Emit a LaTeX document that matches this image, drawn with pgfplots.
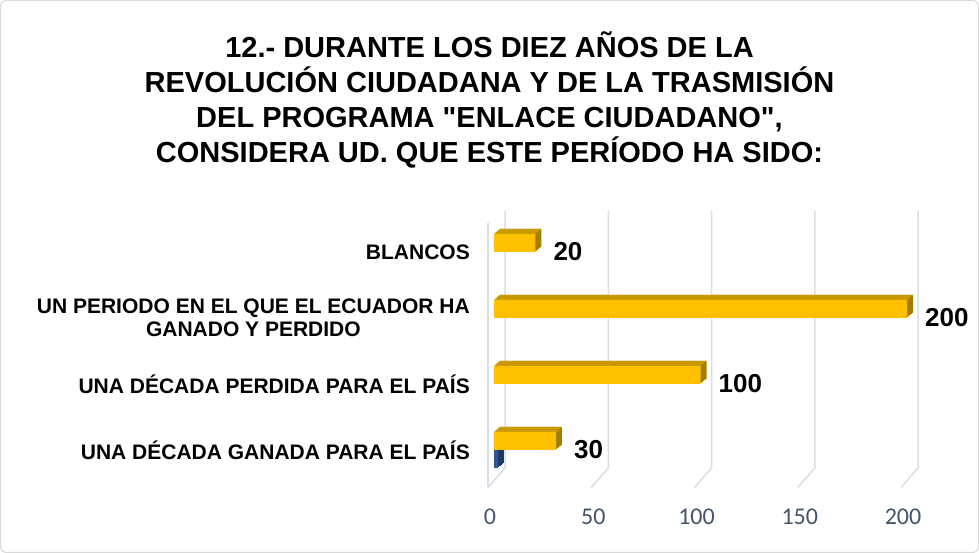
\documentclass[border=0pt]{standalone}
\usepackage{fontspec}
\setmainfont{Liberation Sans}
\newfontfamily\carlito{Carlito}
\usepackage{pgfplots}
\usepackage{pgfplotstable}
\pgfplotsset{compat=1.18}

\definecolor{gold}{HTML}{FFC000}
\definecolor{goldtop}{HTML}{C99A00}
\definecolor{goldside}{HTML}{A37C00}
\definecolor{bluefront}{HTML}{2F5597}
\definecolor{bluetop}{HTML}{4A6FB5}
\definecolor{blueside}{HTML}{1F3864}
\definecolor{gridc}{HTML}{D9DDE6}
\definecolor{tickc}{HTML}{44546A}
\definecolor{framec}{HTML}{D9D9D9}

\newcommand{\comilla}{\XeTeXglyph\XeTeXglyphindex "quotedbl"\relax}

% respuestas (serie 1)
\pgfplotstableread{
y val
0 30
1 100
2 200
3 20
}\amarillo
% serie 2, casi nula
\pgfplotstableread{
y val
0 2
}\azul

\begin{document}
\begin{tikzpicture}[x=1bp,y=1bp]
\draw[framec, line width=1bp, rounded corners=6bp] (0.5,0.5) rectangle (978.5,552.5);
\tikzset{titulo/.style={anchor=base, inner sep=0pt, font=\fontsize{29bp}{35bp}\selectfont\bfseries}}
\node[titulo] at (489.5,495.6) {12.- DURANTE LOS DIEZ AÑOS DE LA};
\node[titulo] at (489.5,460.6) {REVOLUCIÓN CIUDADANA Y DE LA TRASMISIÓN};
\node[titulo] at (489.5,425.6) {DEL PROGRAMA \comilla ENLACE CIUDADANO\comilla,};
\node[titulo] at (489.5,390.6) {CONSIDERA UD. QUE ESTE PERÍODO HA SIDO:};
\begin{axis}[
  at={(494bp,70bp)}, anchor=south west,
  scale only axis, width=413bp, height=264bp,
  xmin=0, xmax=200, ymin=-0.5, ymax=3.5,
  enlargelimits=false, clip=false,
  axis line style={draw=none}, tick style={draw=none},
  xtick={0,50,...,200},
  /pgf/number format/assume math mode=true,
  xticklabel style={font=\carlito\fontsize{24bp}{24bp}\selectfont, text=tickc, anchor=base, yshift=-42bp, xshift=-4bp},
  ytick={0,1,2,3},
  yticklabels={UNA DÉCADA GANADA PARA EL PAÍS, UNA DÉCADA PERDIDA PARA EL PAÍS, {UN PERIODO EN EL QUE EL ECUADOR HA\\GANADO Y PERDIDO}, BLANCOS},
  yticklabel style={font=\fontsize{21bp}{23.5bp}\selectfont\bfseries, align=center, anchor=east, inner sep=0pt, xshift=-24bp},
]
% rejilla con profundidad
\pgfplotsinvokeforeach{0,50,100,150,200}{
  \draw[gridc, line width=1.5bp] ([xshift=11bp,yshift=8bp]axis cs:#1,3.5) -- ([xshift=11bp,yshift=15bp]axis cs:#1,-0.5) -- ([xshift=-6bp,yshift=-4.5bp]axis cs:#1,-0.5);
}
\draw[gridc, line width=1.5bp] ([xshift=-6bp,yshift=-4bp]axis cs:0,3.5) -- ([xshift=-6bp,yshift=-4.5bp]axis cs:0,-0.5);

% serie azul
\pgfplotsinvokeforeach{1,2,3,4,5}{
  \addplot[xbar, bar width=18bp, bar shift=-9bp, fill=blueside, draw=none, xshift={1.2*#1bp}, yshift={#1bp}, forget plot] table[x=val,y=y]{\azul};
}
\pgfplotsinvokeforeach{0.5,1.5,2.5,3.5,4.5}{
  \addplot[xbar, bar width=1.2bp, bar shift={#1bp}, fill=bluetop, draw=none, xshift={1.2*#1bp}, forget plot] table[x=val,y=y]{\azul};
}
\addplot[xbar, bar width=18bp, bar shift=-9bp, fill=bluefront, draw=none] table[x=val,y=y]{\azul};

% serie amarilla
\pgfplotsinvokeforeach{1,2,3,4,5}{
  \addplot[xbar, bar width=18bp, bar shift=9bp, fill=goldside, draw=none, xshift={1.2*#1bp}, yshift={#1bp}, forget plot] table[x=val,y=y]{\amarillo};
}
\pgfplotsinvokeforeach{0.5,1.5,2.5,3.5,4.5}{
  \addplot[xbar, bar width=1.2bp, bar shift={18bp+#1bp}, fill=goldtop, draw=none, xshift={1.2*#1bp}, forget plot] table[x=val,y=y]{\amarillo};
}
\addplot[xbar, bar width=18bp, bar shift=9bp, fill=gold, draw=none,
  nodes near coords,
  nodes near coords style={anchor=west, inner sep=0pt, xshift=18bp, font=\fontsize{26bp}{26bp}\selectfont\bfseries, text=black},
  /pgf/number format/assume math mode=true] table[x=val,y=y]{\amarillo};
\end{axis}
\end{tikzpicture}
\end{document}
